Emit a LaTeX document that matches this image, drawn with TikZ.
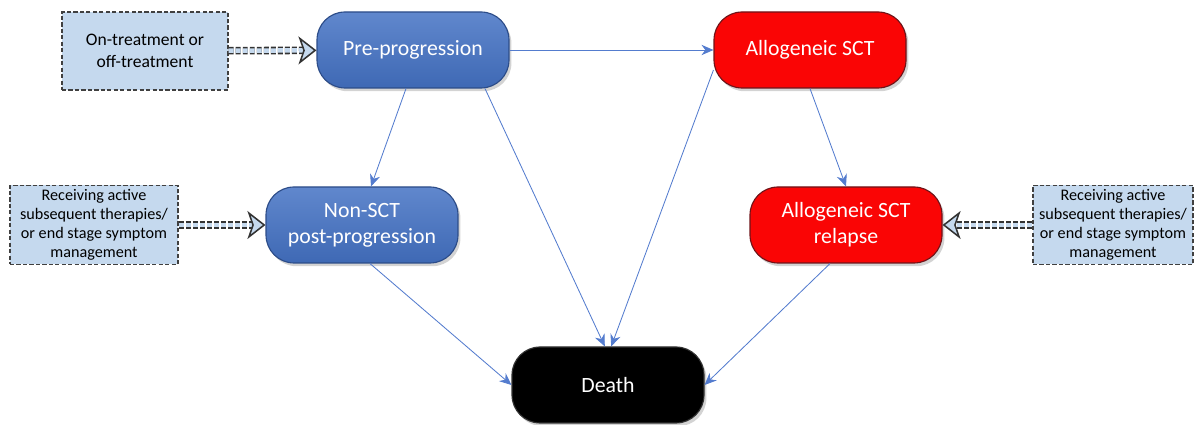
\documentclass[tikz,border=0pt]{standalone}
\usepackage{fontspec}
\setmainfont{Carlito}
\usetikzlibrary{arrows.meta,positioning,shadows}
\definecolor{stateblue}{RGB}{68,114,196}
\definecolor{stateblueline}{RGB}{44,76,136}
\definecolor{statered}{RGB}{250,5,5}
\definecolor{stateredline}{RGB}{110,20,25}
\definecolor{notefill}{RGB}{197,217,238}
\definecolor{linkc}{RGB}{84,124,206}

\begin{document}
\begin{tikzpicture}[
  every node/.style={font=\fontsize{15.5}{18.5}\selectfont},
  st/.style={rounded corners=7mm, minimum width=4.8cm, minimum height=1.9cm,
             align=center, text=white, line width=0.8pt,
             drop shadow={shadow xshift=0.6mm, shadow yshift=-0.8mm, opacity=0.35}},
  bluest/.style={st, draw=stateblueline, top color=stateblue!85!white, bottom color=stateblue!92!black},
  redst/.style={st, draw=stateredline, fill=statered},
  deathst/.style={st, draw=black!80, fill=black},
  note/.style={draw=black!75, dash pattern=on 3pt off 1.6pt, line width=1pt, fill=notefill,
               align=center, font=\fontsize{11.5}{13.6}\selectfont, inner sep=1pt},
  link/.style={-{Stealth[length=3mm, width=2.6mm]}, linkc, line width=0.6pt},
  feed/.style={draw=black!80, dash pattern=on 3.5pt off 1.5pt, line width=1.1pt, double=notefill,
               double distance=3.2pt,
               -{Stealth[open, inset=1.2mm, length=4.5mm, width=7mm, fill=notefill]}},
]
\useasboundingbox (0,0) rectangle (29.85,10.625);

\node[bluest]  (pre)    at (10.325,9.375) {Pre-progression};
\node[redst]   (allo)   at (20.25,9.375)  {Allogeneic SCT};
\node[bluest]  (nonsct) at (9.05,5.0)     {Non-SCT\\post-progression};
\node[redst]   (relapse) at (21.15,5.0)   {Allogeneic SCT\\relapse};
\node[deathst] (death)  at (15.2,1.0)     {Death};

\node[note, minimum width=4.15cm, minimum height=1.95cm, font=\fontsize{12.5}{15.5}\selectfont]
  (ontrt) at (3.625,9.35) {On-treatment or\\off-treatment};
\node[note, minimum width=4.2cm, minimum height=1.975cm]
  (subl) at (2.35,5.0) {Receiving active\\subsequent therapies/\\or end stage symptom\\management};
\node[note, minimum width=4.0cm, minimum height=1.975cm]
  (subr) at (27.825,5.0) {Receiving active\\subsequent therapies/\\or end stage symptom\\management};

\draw[link] (pre) -- (allo);
\draw[link] ([xshift=-1.75mm]pre.south) -- ([xshift=2.25mm]nonsct.north);
\draw[link] ([xshift=18mm]pre.south) -- ([xshift=-0.8mm]death.north);
\draw[link] ([yshift=-5mm]allo.west) -- ([xshift=0.8mm]death.north);
\draw[link] (allo.south) -- (relapse.north);
\draw[link] ([xshift=2mm]nonsct.south) -- (death.west);
\draw[link] ([xshift=-4mm]relapse.south) -- (death.east);

\draw[feed] (ontrt) -- (pre);
\draw[feed] (subl) -- (nonsct);
\draw[feed] (subr) -- (relapse);
\end{tikzpicture}
\end{document}
